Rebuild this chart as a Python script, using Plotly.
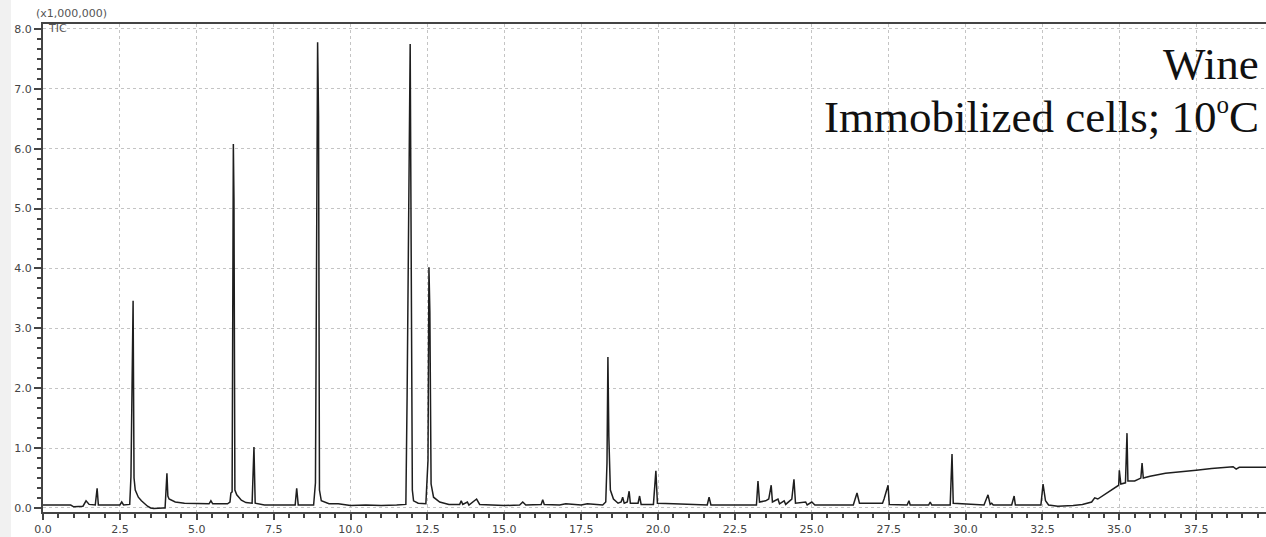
import plotly.graph_objects as go

# Retention time (min) and TIC intensity (x1,000,000)
rt_early = [0.0, 0.9, 1.0, 1.3, 1.4, 1.5, 1.7, 1.76, 1.8, 2.5, 2.56, 2.62, 2.82,
            2.86, 2.93, 2.96, 3.0, 3.1, 3.2, 3.3, 3.4, 3.5, 3.6, 3.9, 3.97,
            4.03, 4.06, 4.1, 4.3, 4.6, 5.0, 5.4, 5.46, 5.52, 6.0, 6.08, 6.11,
            6.15, 6.19, 6.21, 6.24, 6.3, 6.45, 6.6, 6.8, 6.86, 6.9, 7.2, 8.2,
            8.25, 8.3, 8.8, 8.86, 8.93, 8.96, 8.99, 9.05, 9.3]
tic_early = [0.05, 0.05, 0.02, 0.03, 0.12, 0.06, 0.05, 0.33, 0.05, 0.05, 0.1, 0.05, 0.06,
             0.52, 3.46, 0.5, 0.3, 0.18, 0.12, 0.07, 0.03, 0.0, -0.01, 0.0, 0.0,
             0.58, 0.2, 0.15, 0.1, 0.08, 0.07, 0.07, 0.12, 0.07, 0.07, 0.1, 0.25,
             0.27, 6.08, 5.15, 0.3, 0.22, 0.13, 0.09, 0.08, 1.02, 0.08, 0.05, 0.05,
             0.33, 0.05, 0.05, 0.42, 7.78, 6.55, 0.3, 0.12, 0.07]

rt_mid = [9.6, 10.0, 10.5, 11.0, 11.5, 11.8, 11.84, 11.9, 11.94, 11.98, 12.01,
          12.05, 12.2, 12.45, 12.52, 12.55, 12.58, 12.62, 12.7, 12.9, 13.2, 13.55,
          13.6, 13.65, 13.8, 13.85, 14.1, 14.2, 14.5, 15.0, 15.5, 15.6, 15.7,
          16.2, 16.25, 16.3, 16.8, 17.0, 17.5, 17.7, 18.2, 18.3, 18.34, 18.37,
          18.4, 18.45, 18.55, 18.7, 18.8, 18.85, 18.9, 19.0, 19.06, 19.1, 19.35,
          19.4, 19.45, 19.85, 19.93, 19.98]
tic_mid = [0.07, 0.04, 0.05, 0.04, 0.05, 0.06, 1.85, 5.48, 7.75, 3.47, 0.3,
           0.12, 0.08, 0.07, 0.8, 4.02, 3.27, 0.4, 0.18, 0.1, 0.06, 0.06,
           0.12, 0.06, 0.1, 0.05, 0.15, 0.06, 0.05, 0.04, 0.05, 0.1, 0.05,
           0.06, 0.14, 0.06, 0.05, 0.07, 0.05, 0.07, 0.05, 0.1, 0.75, 2.52,
           1.2, 0.3, 0.15, 0.08, 0.1, 0.18, 0.08, 0.1, 0.28, 0.08, 0.08,
           0.2, 0.06, 0.06, 0.62, 0.08]

rt_late = [20.5, 21.6, 21.66, 21.72, 22.3, 23.2, 23.25, 23.3, 23.5, 23.6, 23.68,
           23.72, 23.9, 23.95, 24.1, 24.15, 24.35, 24.42, 24.47, 24.8, 24.85,
           25.0, 25.1, 26.35, 26.47, 26.55, 27.3, 27.35, 27.48, 27.52, 28.1,
           28.16, 28.2, 28.8, 28.85, 28.9, 29.5, 29.53, 29.56, 29.6, 30.6,
           30.73, 30.8, 30.85, 30.9, 31.5, 31.58, 31.62, 32.45, 32.52, 32.6,
           32.7, 33.0, 33.5, 33.8, 34.1, 34.2, 34.3, 34.6, 34.9, 34.98, 35.0,
           35.05, 35.2, 35.25, 35.28, 35.5, 35.7, 35.74, 35.78, 36.0, 36.5,
           37.0, 37.5, 38.0, 38.5, 38.7, 38.8, 38.9, 39.8]
tic_late = [0.07, 0.05, 0.18, 0.05, 0.05, 0.05, 0.45, 0.1, 0.12, 0.15, 0.38,
            0.1, 0.15, 0.07, 0.12, 0.06, 0.15, 0.48, 0.08, 0.1, 0.05,
            0.1, 0.05, 0.05, 0.25, 0.08, 0.08, 0.15, 0.38, 0.06, 0.05,
            0.12, 0.05, 0.05, 0.1, 0.05, 0.05, 0.55, 0.9, 0.08, 0.05,
            0.22, 0.06, 0.08, 0.05, 0.05, 0.2, 0.05, 0.05, 0.4, 0.12,
            0.05, 0.03, 0.04, 0.06, 0.1, 0.17, 0.15, 0.25, 0.35, 0.38, 0.63,
            0.4, 0.42, 1.25, 0.45, 0.45, 0.5, 0.75, 0.5, 0.53, 0.58,
            0.6, 0.63, 0.66, 0.68, 0.69, 0.65, 0.68, 0.68]

x_tick_vals = [0.0, 2.5, 5.0, 7.5, 10.0, 12.5, 15.0, 17.5, 20.0, 22.5, 25.0,
               27.5, 30.0, 32.5, 35.0, 37.5]
y_tick_vals = [0, 1, 2, 3, 4, 5, 6, 7, 8]

rt = rt_early + rt_mid + rt_late
tic = tic_early + tic_mid + tic_late

fig = go.Figure()
fig.add_trace(go.Scatter(
    x=rt, y=tic, mode="lines",
    line=dict(color="#1e1e1e", width=1.5),
    hoverinfo="skip", showlegend=False,
))

W, H = 1266, 537
L, R, T, B = 43, 0, 24, 25

fig.update_layout(
    width=W, height=H,
    margin=dict(l=L, r=R, t=T, b=B),
    paper_bgcolor="white", plot_bgcolor="white",
    showlegend=False,
    xaxis=dict(
        range=[0, 39.77], tickvals=x_tick_vals, tickformat=".1f",
        ticks="outside", ticklen=6, tickwidth=1.5, tickcolor="#444",
        showline=True, linecolor="#444", linewidth=2, mirror=True,
        showgrid=True, gridcolor="#c4c4c4", gridwidth=1, griddash="3px,3px",
        zeroline=False,
        tickfont=dict(family="DejaVu Sans", size=11, color="#444"),
        minor=dict(dtick=0.5, tick0=0, ticks="outside", ticklen=4,
                   tickwidth=1.5, tickcolor="#444", showgrid=False),
    ),
    yaxis=dict(
        range=[-0.067, 8.083], tickvals=y_tick_vals, tickformat=".1f",
        ticks="outside", ticklen=7, tickwidth=1.5, tickcolor="#444",
        showline=True, linecolor="#444", linewidth=2, mirror=False,
        showgrid=True, gridcolor="#c4c4c4", gridwidth=1, griddash="3px,3px",
        zeroline=False,
        tickfont=dict(family="DejaVu Sans", size=11, color="#444"),
        minor=dict(dtick=1/6, tick0=0, ticks="outside", ticklen=4,
                   tickwidth=1.5, tickcolor="#444", showgrid=False),
    ),
)

# light gray strip at left edge of the image
fig.add_shape(type="rect", xref="paper", yref="paper",
              x0=-L / (W - L - R), x1=-(L - 11) / (W - L - R), y0=-1, y1=2,
              fillcolor="#f1f1f1", line_width=0, layer="below")

fig.add_annotation(text="(x1,000,000)", xref="paper", yref="paper",
                   x=-9 / (W - L - R), y=1.0, yshift=2, xanchor="left", yanchor="bottom",
                   showarrow=False,
                   font=dict(family="DejaVu Sans", size=11, color="#555"))
fig.add_annotation(text="TIC", xref="paper", yref="y",
                   x=3 / (W - L - R), y=8.0, xanchor="left", yanchor="middle",
                   showarrow=False,
                   font=dict(family="DejaVu Sans", size=11, color="#555"))

fig.add_annotation(text="Wine", xref="paper", yref="paper",
                   x=1.0, xshift=-5, y=1 - (64 - T) / (H - T - B),
                   xanchor="right", yanchor="middle", showarrow=False,
                   font=dict(family="Liberation Serif", size=45, color="#111"))
fig.add_annotation(text="Immobilized cells; 10<sup><span style='font-size:25px'>o</span></sup>C",
                   xref="paper", yref="paper",
                   x=1.0, xshift=-5, y=1 - (117 - T) / (H - T - B),
                   xanchor="right", yanchor="middle", showarrow=False,
                   font=dict(family="Liberation Serif", size=45, color="#111"))

fig.write_html(
    "out.html",
    config={"displayModeBar": False},
    post_script="document.body.style.margin='0';document.body.style.overflow='hidden';",
)
